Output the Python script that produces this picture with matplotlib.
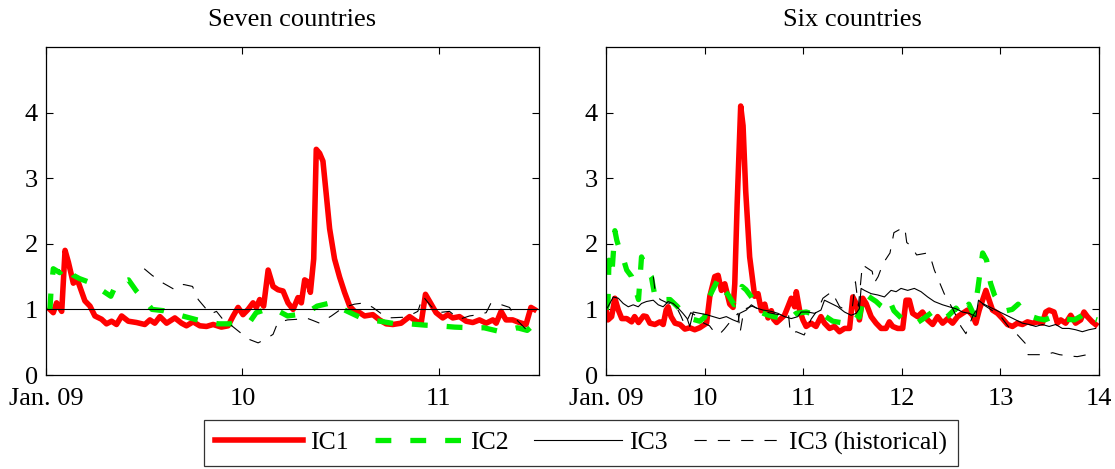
import matplotlib
matplotlib.use("Agg")
import matplotlib.pyplot as plt
from matplotlib.lines import Line2D

plt.rcParams.update({
    "font.family": ["Liberation Serif", "DejaVu Serif"],
    "font.size": 19,
    "axes.linewidth": 0.9,
    "xtick.direction": "in",
    "ytick.direction": "in",
    "xtick.top": True,
    "ytick.right": True,
    "xtick.major.size": 5,
    "ytick.major.size": 5,
})

RED = "#ff0000"
GREEN = "#00ee00"

# ---- Seven countries (dates in decimal years) ----
ic1_seven_t = [2009.02, 2009.037, 2009.054, 2009.08, 2009.097, 2009.114, 2009.139, 2009.16, 2009.198, 2009.224,
               2009.249, 2009.283, 2009.308, 2009.334, 2009.359, 2009.385, 2009.419, 2009.461, 2009.503, 2009.529,
               2009.554, 2009.58, 2009.614, 2009.656, 2009.69, 2009.715, 2009.749, 2009.783, 2009.817, 2009.851,
               2009.893, 2009.927, 2009.953, 2009.978, 2010.003, 2010.029, 2010.054, 2010.071, 2010.088, 2010.108,
               2010.131, 2010.156, 2010.181, 2010.207, 2010.232, 2010.258, 2010.283, 2010.3, 2010.317, 2010.334,
               2010.346, 2010.363, 2010.376, 2010.393, 2010.41, 2010.427, 2010.444, 2010.469, 2010.495, 2010.52,
               2010.546, 2010.571, 2010.597, 2010.622, 2010.664, 2010.698, 2010.732, 2010.766, 2010.808, 2010.851,
               2010.885, 2010.91, 2010.932, 2010.961, 2010.986, 2011.02, 2011.046, 2011.071, 2011.105, 2011.139,
               2011.173, 2011.207, 2011.241, 2011.275, 2011.292, 2011.317, 2011.342, 2011.376, 2011.41, 2011.444,
               2011.469, 2011.486]
ic1_seven = [1.0, 0.95, 1.1, 0.97, 1.9, 1.72, 1.4, 1.45, 1.13, 1.05,
             0.9, 0.85, 0.78, 0.82, 0.77, 0.9, 0.82, 0.8, 0.77, 0.84,
             0.79, 0.89, 0.79, 0.87, 0.79, 0.75, 0.81, 0.75, 0.74, 0.77,
             0.73, 0.75, 0.9, 1.03, 0.92, 1.0, 1.1, 1.03, 1.15, 1.05,
             1.6, 1.35, 1.3, 1.28, 1.1, 1.0, 1.18, 1.1, 1.45, 1.42,
             1.26, 1.77, 3.44, 3.38, 3.26, 2.75, 2.23, 1.77, 1.49, 1.26,
             1.05, 0.97, 0.95, 0.9, 0.92, 0.84, 0.78, 0.77, 0.79, 0.89,
             0.82, 0.79, 1.23, 1.08, 0.95, 0.87, 0.92, 0.87, 0.89, 0.82,
             0.8, 0.84, 0.79, 0.84, 0.79, 0.97, 0.84, 0.84, 0.8, 0.77,
             1.03, 1.0]

ic2_seven_t = [2009.02, 2009.025, 2009.037, 2009.07, 2009.105, 2009.139, 2009.17, 2009.224, 2009.266, 2009.29,
               2009.33, 2009.36, 2009.42, 2009.46, 2009.5, 2009.54, 2009.6, 2009.67, 2009.72, 2009.77,
               2009.83, 2009.88, 2009.94, 2009.98, 2010.04, 2010.07, 2010.12, 2010.18, 2010.23, 2010.28,
               2010.33, 2010.38, 2010.45, 2010.5, 2010.57, 2010.62, 2010.7, 2010.78, 2010.85, 2010.93,
               2011.0, 2011.08, 2011.16, 2011.23, 2011.3, 2011.34, 2011.4, 2011.45, 2011.485]
ic2_seven = [1.0, 1.25, 1.62, 1.56, 1.67, 1.52, 1.47, 1.41, 1.33, 1.28,
             1.2, 1.4, 1.45, 1.28, 1.15, 1.0, 0.98, 0.92, 0.88, 0.84,
             0.8, 0.78, 0.78, 0.8, 0.82, 0.95, 1.0, 0.98, 0.9, 0.92,
             0.95, 1.05, 1.1, 1.02, 0.92, 0.85, 0.82, 0.78, 0.78, 0.76,
             0.75, 0.73, 0.72, 0.72, 0.67, 0.68, 0.72, 0.68, 0.77]

ic3_seven_t = [2009.0, 2011.51]
ic3_seven = [1.0, 1.0]

ic3h_seven_t = [2009.5, 2009.54, 2009.597, 2009.656, 2009.7, 2009.746, 2009.775, 2009.837, 2009.868, 2009.9,
                2009.95, 2010.0, 2010.037, 2010.08, 2010.12, 2010.156, 2010.18, 2010.23, 2010.283, 2010.325,
                2010.36, 2010.393, 2010.453, 2010.5, 2010.537, 2010.571, 2010.622, 2010.664, 2010.7, 2010.74,
                2010.817, 2010.86, 2010.893, 2010.919, 2010.96, 2010.995, 2011.054, 2011.105, 2011.156, 2011.2,
                2011.241, 2011.266, 2011.31, 2011.36, 2011.393, 2011.453, 2011.478]
ic3h_seven = [1.62, 1.52, 1.4, 1.3, 1.38, 1.35, 1.15, 0.93, 0.97, 0.85,
              0.74, 0.62, 0.54, 0.49, 0.55, 0.62, 0.8, 0.84, 0.85, 0.87,
              0.83, 0.79, 0.9, 1.0, 1.05, 1.08, 1.1, 1.03, 0.95, 0.87,
              0.88, 0.92, 0.97, 1.2, 1.05, 0.95, 0.97, 0.85, 0.9, 0.92,
              0.95, 1.1, 1.08, 1.03, 0.85, 0.67, 0.74]

# ---- Six countries ----
ic1_six_t = [2009.0, 2009.02, 2009.057, 2009.09, 2009.125, 2009.16, 2009.21, 2009.26, 2009.29, 2009.33,
             2009.38, 2009.41, 2009.445, 2009.496, 2009.546, 2009.58, 2009.61, 2009.63, 2009.66, 2009.7,
             2009.75, 2009.8, 2009.85, 2009.9, 2009.95, 2010.0, 2010.02, 2010.053, 2010.103, 2010.137,
             2010.17, 2010.205, 2010.255, 2010.289, 2010.306, 2010.33, 2010.366, 2010.39, 2010.417, 2010.457,
             2010.508, 2010.542, 2010.575, 2010.61, 2010.643, 2010.677, 2010.7, 2010.73, 2010.76, 2010.81,
             2010.845, 2010.879, 2010.913, 2010.93, 2010.963, 2010.997, 2011.03, 2011.08, 2011.13, 2011.18,
             2011.216, 2011.267, 2011.317, 2011.368, 2011.419, 2011.47, 2011.503, 2011.537, 2011.57, 2011.604,
             2011.638, 2011.689, 2011.739, 2011.79, 2011.84, 2011.874, 2011.908, 2011.958, 2012.009, 2012.043,
             2012.076, 2012.11, 2012.16, 2012.21, 2012.262, 2012.313, 2012.363, 2012.414, 2012.465, 2012.515,
             2012.566, 2012.616, 2012.667, 2012.718, 2012.751, 2012.785, 2012.819, 2012.853, 2012.886, 2012.92,
             2012.971, 2013.021, 2013.072, 2013.122, 2013.173, 2013.224, 2013.274, 2013.325, 2013.375, 2013.426,
             2013.46, 2013.494, 2013.544, 2013.578, 2013.612, 2013.662, 2013.713, 2013.763, 2013.814, 2013.848,
             2013.882, 2013.932, 2013.966]
ic1_six = [1.0, 0.84, 0.89, 1.17, 0.99, 0.86, 0.86, 0.81, 0.89, 0.8,
           0.9, 0.89, 0.79, 0.77, 0.81, 0.77, 0.99, 1.04, 0.89, 0.79,
           0.77, 0.7, 0.72, 0.69, 0.72, 0.77, 0.79, 1.2, 1.5, 1.52,
           1.29, 1.39, 1.08, 1.03, 1.39, 2.6, 4.1, 3.8, 2.8, 1.8,
           1.2, 1.24, 0.98, 1.08, 0.87, 0.98, 0.85, 0.8, 0.84, 0.91,
           1.04, 1.17, 1.04, 1.27, 0.99, 0.84, 0.74, 0.79, 0.74, 0.89,
           0.79, 0.71, 0.74, 0.66, 0.71, 0.71, 1.19, 1.09, 0.84, 1.17,
           1.09, 0.89, 0.79, 0.71, 0.71, 0.81, 0.74, 0.71, 0.71, 1.14,
           1.14, 0.94, 0.89, 0.96, 0.84, 0.77, 0.89, 0.79, 0.86, 0.79,
           0.89, 0.94, 0.99, 0.91, 0.79, 0.99, 1.14, 1.29, 1.14, 0.99,
           0.94, 0.86, 0.77, 0.74, 0.79, 0.77, 0.81, 0.79, 0.81, 0.79,
           0.96, 0.99, 0.96, 0.79, 0.84, 0.79, 0.91, 0.79, 0.84, 0.96,
           0.89, 0.81, 0.77]

ic2_six_t = [2009.0, 2009.02, 2009.03, 2009.06, 2009.09, 2009.11, 2009.14, 2009.17, 2009.21, 2009.26,
             2009.33, 2009.36, 2009.41, 2009.46, 2009.49, 2009.53, 2009.58, 2009.65, 2009.72, 2009.8,
             2009.88, 2009.95, 2010.0, 2010.05, 2010.1, 2010.14, 2010.19, 2010.24, 2010.3, 2010.33,
             2010.38, 2010.42, 2010.47, 2010.53, 2010.58, 2010.63, 2010.7, 2010.78, 2010.85, 2010.93,
             2011.03, 2011.1, 2011.15, 2011.22, 2011.3, 2011.38, 2011.45, 2011.52, 2011.57, 2011.62,
             2011.68, 2011.74, 2011.79, 2011.84, 2011.88, 2011.92, 2012.0, 2012.07, 2012.14, 2012.22,
             2012.3, 2012.35, 2012.4, 2012.47, 2012.55, 2012.61, 2012.68, 2012.73, 2012.77, 2012.82,
             2012.86, 2012.9, 2012.94, 2013.0, 2013.06, 2013.12, 2013.18, 2013.22, 2013.3, 2013.38,
             2013.45, 2013.52, 2013.6, 2013.67, 2013.75, 2013.82, 2013.88, 2013.94, 2013.98]
ic2_six = [1.0, 1.1, 1.75, 1.55, 2.2, 2.05, 1.9, 1.8, 1.6, 1.5,
           1.15, 1.8, 1.6, 1.5, 1.25, 1.12, 1.15, 1.15, 1.05, 0.92,
           0.85, 0.82, 0.88, 1.2, 1.35, 1.47, 1.3, 1.22, 1.07, 1.1,
           1.35, 1.3, 1.2, 1.05, 0.95, 0.92, 0.89, 0.87, 0.84, 0.94,
           0.96, 0.93, 0.86, 0.9, 0.82, 0.8, 0.84, 0.94, 0.88, 1.25,
           1.18, 1.12, 1.05, 1.0, 1.12, 0.98, 0.86, 0.82, 0.78, 0.86,
           0.95, 0.9, 0.84, 0.9, 1.02, 0.9, 1.08, 0.92, 1.3, 1.86,
           1.75, 1.4, 1.22, 1.08, 0.98, 1.0, 1.08, 0.98, 0.9, 0.86,
           0.84, 0.88, 0.9, 0.85, 0.84, 0.9, 0.97, 0.86, 0.84]

ic3_six_t = [2009.0, 2009.02, 2009.074, 2009.125, 2009.175, 2009.226, 2009.276, 2009.327, 2009.36, 2009.41,
             2009.479, 2009.53, 2009.58, 2009.63, 2009.68, 2009.732, 2009.78, 2009.823, 2009.85, 2009.884,
             2009.95, 2010.02, 2010.086, 2010.153, 2010.22, 2010.288, 2010.339, 2010.356, 2010.423, 2010.474,
             2010.525, 2010.592, 2010.676, 2010.744, 2010.81, 2010.879, 2010.946, 2010.98, 2011.048, 2011.115,
             2011.18, 2011.216, 2011.284, 2011.351, 2011.419, 2011.486, 2011.537, 2011.57, 2011.587, 2011.621,
             2011.689, 2011.756, 2011.824, 2011.891, 2011.942, 2011.992, 2012.06, 2012.127, 2012.195, 2012.262,
             2012.33, 2012.414, 2012.48, 2012.549, 2012.616, 2012.684, 2012.751, 2012.778, 2012.819, 2012.886,
             2012.954, 2013.021, 2013.089, 2013.156, 2013.224, 2013.291, 2013.359, 2013.426, 2013.494, 2013.561,
             2013.628, 2013.696, 2013.763, 2013.831, 2013.898, 2013.966]
ic3_six = [1.0, 1.04, 1.19, 1.17, 1.09, 1.04, 1.07, 1.04, 1.09, 1.12,
           1.14, 1.07, 1.04, 1.12, 1.09, 1.02, 0.94, 0.86, 0.74, 0.96,
           0.94, 0.92, 0.89, 0.86, 0.89, 0.84, 0.81, 0.94, 0.99, 1.07,
           1.02, 0.99, 0.97, 0.94, 0.89, 0.86, 0.89, 0.96, 0.96, 0.94,
           0.99, 1.14, 1.09, 1.04, 0.96, 0.91, 0.94, 1.01, 1.32, 1.29,
           1.24, 1.22, 1.19, 1.29, 1.27, 1.32, 1.29, 1.32, 1.27, 1.19,
           1.12, 1.07, 1.04, 1.01, 0.96, 0.94, 0.89, 1.14, 1.09, 1.04,
           0.99, 0.94, 0.89, 0.84, 0.79, 0.77, 0.74, 0.77, 0.74, 0.77,
           0.71, 0.71, 0.69, 0.66, 0.69, 0.71]

ic3h_six_t = [2009.48, 2009.5, 2009.55, 2009.62, 2009.7, 2009.76, 2009.8, 2009.86, 2009.92, 2009.98,
              2010.05, 2010.1, 2010.15, 2010.2, 2010.28, 2010.34, 2010.36, 2010.4, 2010.48, 2010.56,
              2010.65, 2010.75, 2010.85, 2010.87, 2010.93, 2011.01, 2011.08, 2011.15, 2011.2, 2011.29,
              2011.37, 2011.42, 2011.5, 2011.53, 2011.56, 2011.6, 2011.65, 2011.7, 2011.72, 2011.76,
              2011.81, 2011.88, 2011.92, 2011.98, 2012.03, 2012.05, 2012.1, 2012.15, 2012.26, 2012.3,
              2012.33, 2012.38, 2012.43, 2012.52, 2012.6, 2012.65, 2012.72, 2012.8, 2012.9, 2013.0,
              2013.1, 2013.15, 2013.26, 2013.28, 2013.35, 2013.46, 2013.53, 2013.6, 2013.7, 2013.78,
              2013.88, 2013.97]
ic3h_six = [1.5, 1.25, 1.15, 1.1, 1.08, 0.9, 0.76, 0.95, 0.9, 0.8,
            0.75, 0.65, 0.62, 0.7, 0.85, 0.94, 0.65, 1.0, 1.05, 1.0,
            0.95, 0.92, 0.94, 0.63, 0.66, 0.61, 0.85, 1.0, 1.17, 1.27,
            1.04, 1.0, 1.05, 1.42, 1.05, 1.68, 1.63, 1.58, 1.4, 1.5,
            1.7, 1.86, 2.17, 2.22, 2.25, 2.02, 1.96, 1.83, 1.86, 1.75,
            1.6, 1.42, 1.24, 1.0, 0.74, 0.63, 0.9, 1.1, 1.0, 0.9,
            0.7, 0.65, 0.47, 0.31, 0.31, 0.31, 0.34, 0.31, 0.29, 0.28,
            0.31, 0.33]

panels = [
    ("Seven countries", ic1_seven_t, ic1_seven, ic2_seven_t, ic2_seven, ic3_seven_t, ic3_seven,
     ic3h_seven_t, ic3h_seven, 2011.51, [2009, 2010, 2011], ["Jan. 09", "10", "11"]),
    ("Six countries", ic1_six_t, ic1_six, ic2_six_t, ic2_six, ic3_six_t, ic3_six,
     ic3h_six_t, ic3h_six, 2014.0, [2009, 2010, 2011, 2012, 2013, 2014], ["Jan. 09", "10", "11", "12", "13", "14"]),
]

fig = plt.figure(figsize=(11.15, 4.69), dpi=100)
lefts = [46 / 1115, 606 / 1115]

for left, p in zip(lefts, panels):
    title, t1, y1, t2, y2, t3, y3, t4, y4, xmax, xt, xl = p
    ax = fig.add_axes([left, 94 / 469, 493 / 1115, 328 / 469])
    ax.plot(t1, y1, color=RED, lw=4.0, solid_joinstyle="round")
    ax.plot(t2, y2, color=GREEN, lw=3.8, linestyle=(0, (3.0, 3.6)))
    ax.plot(t3, y3, color="black", lw=0.8)
    ax.plot(t4, y4, color="black", lw=0.8, linestyle=(0, (11, 10)))
    ax.set_xlim(2009, xmax)
    ax.set_ylim(0, 5)
    ax.set_yticks([0, 1, 2, 3, 4])
    ax.set_xticks(xt)
    ax.set_xticklabels(xl)
    ax.tick_params(axis="x", pad=9)
    ax.tick_params(axis="y", pad=6)
    ax.set_title(title, fontsize=19, pad=15)

handles = [
    Line2D([], [], color=RED, lw=4.0),
    Line2D([], [], color=GREEN, lw=3.8, linestyle=(0, (3.0, 3.6))),
    Line2D([], [], color="black", lw=0.8),
    Line2D([], [], color="black", lw=0.8, linestyle=(0, (11, 10))),
]
leg = fig.legend(handles, ["IC1", "IC2", "IC3", "IC3 (historical)"], loc="center",
                 bbox_to_anchor=(581 / 1115, 26 / 469), ncol=4, frameon=True, fancybox=False,
                 edgecolor="black", handlelength=3.4, handletextpad=0.3, columnspacing=1.0,
                 borderpad=0.45, fontsize=18.5)
leg.get_frame().set_linewidth(0.9)

fig.savefig("out.png", dpi=100)
